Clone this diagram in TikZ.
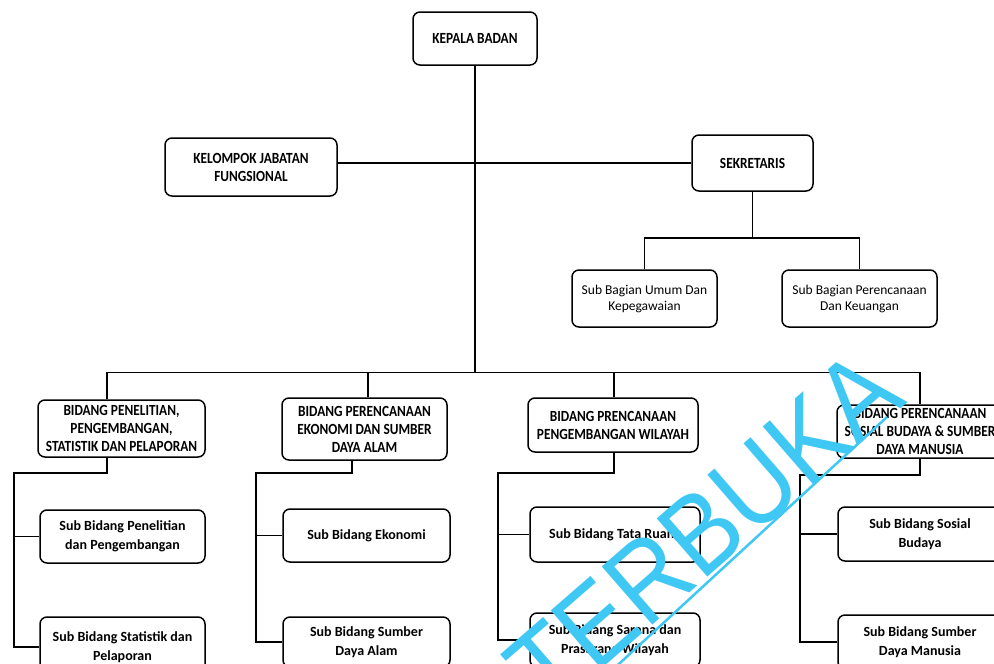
\documentclass[tikz,border=0pt]{standalone}
\usepackage{fontspec}
\setmainfont{Carlito}
\newfontfamily\capsf[FakeStretch=0.86]{Carlito}
\newfontfamily\wmf[FakeStretch=0.9]{Liberation Sans}
\definecolor{wm}{RGB}{64,200,245}
\tikzset{
  box/.style={draw, line width=1.5pt, rounded corners=7pt, fill=white, align=center, inner sep=2pt},
  capsbox/.style={box, font=\capsf\bfseries\fontsize{15.5}{18}\selectfont},
  subbox/.style={box, font=\bfseries\fontsize{14}{19.5}\selectfont},
  bagbox/.style={box, font=\fontsize{13.5}{16}\selectfont},
  conn/.style={line width=1.3pt},
}
\begin{document}
\begin{tikzpicture}[x=1pt,y=-1pt]
\useasboundingbox (0,0) rectangle (994,664);
\clip (0,0) rectangle (994,664);
\fill[white] (0,0) rectangle (994,664);

% top level
\node[capsbox, minimum width=124pt, minimum height=53pt] (kepala) at (475,38.5) {KEPALA BADAN};
\node[capsbox, minimum width=172pt, minimum height=58pt] (kelompok) at (251,167) {KELOMPOK JABATAN\\FUNGSIONAL};
\node[capsbox, minimum width=121pt, minimum height=56pt] (sekretaris) at (752.5,163) {SEKRETARIS};
\node[bagbox, minimum width=145pt, minimum height=57pt] (subum) at (644.5,298.5) {Sub Bagian Umum Dan\\Kepegawaian};
\node[bagbox, minimum width=155pt, minimum height=57pt] (subper) at (859.5,298.5) {Sub Bagian Perencanaan\\Dan Keuangan};

% bidang
\node[capsbox, minimum width=167pt, minimum height=57pt] (b1) at (121.5,428.5) {BIDANG PENELITIAN,\\PENGEMBANGAN,\\STATISTIK DAN PELAPORAN};
\node[capsbox, minimum width=165pt, minimum height=62pt] (b2) at (364.5,429) {BIDANG PERENCANAAN\\EKONOMI DAN SUMBER\\DAYA ALAM};
\node[capsbox, minimum width=170pt, minimum height=54pt] (b3) at (613,425) {BIDANG PRENCANAAN\\PENGEMBANGAN WILAYAH};
\node[capsbox, minimum width=166pt, minimum height=53pt] (b4) at (920,431.5) {BIDANG PERENCANAAN\\SOSIAL BUDAYA \& SUMBER\\DAYA MANUSIA};

% sub bidang
\node[subbox, minimum width=165pt, minimum height=53pt] (s11) at (122.5,536.5) {Sub Bidang Penelitian\\dan Pengembangan};
\node[subbox, minimum width=165pt, minimum height=60pt] (s12) at (122.5,647) {Sub Bidang Statistik dan\\Pelaporan};
\node[subbox, minimum width=167pt, minimum height=53pt] (s21) at (366.5,535.5) {Sub Bidang Ekonomi};
\node[subbox, minimum width=167pt, minimum height=50pt] (s22) at (366.5,642) {Sub Bidang Sumber\\Daya Alam};
\node[subbox, minimum width=170pt, minimum height=55pt] (s31) at (615,534.5) {Sub Bidang Tata Ruang};
\node[subbox, minimum width=170pt, minimum height=54pt] (s32) at (615,640) {Sub Bidang Sarana dan\\Prasarana Wilayah};
\node[subbox, minimum width=164pt, minimum height=54pt] (s41) at (920,534) {Sub Bidang Sosial\\Budaya};
\node[subbox, minimum width=164pt, minimum height=54pt] (s42) at (920,642) {Sub Bidang Sumber\\Daya Manusia};

% connectors: top
\path (kepala.south) ++(0,307) coordinate (mbus);
\draw[conn] (kepala.south) -- (mbus);
\draw[conn] (kelompok.east |- sekretaris.west) -- (sekretaris.west);
\coordinate (sbus) at (753,238);
\draw[conn] (sekretaris.south) -- (sekretaris.south |- sbus);
\draw[conn] (subum.north) |- (sbus) -| (subper.north);

% main bus
\draw[conn] ([xshift=-14.5pt]b1.north) |- (mbus) -| (b4.north);
\draw[conn] ([xshift=3.5pt]b2.north) |- (mbus);
\draw[conn] ([xshift=1pt]b3.north) |- (mbus);

% column 1
\coordinate (c1) at (14,473);
\draw[conn] ([xshift=-14.5pt]b1.south) |- (c1) |- (s12.west);
\draw[conn] (c1 |- s11.west) -- (s11.west);
% column 2
\coordinate (c2) at (256,473);
\draw[conn] ([xshift=-12.5pt]b2.south) |- (c2) |- (s22.west);
\draw[conn] (c2 |- s21.west) -- (s21.west);
% column 3
\coordinate (c3) at (498,473);
\draw[conn] ([xshift=1pt]b3.south) |- (c3) |- (s32.west);
\draw[conn] (c3 |- s31.west) -- (s31.west);
% column 4
\coordinate (c4) at (800,475);
\draw[conn] (b4.south) |- (c4) |- (s42.west);
\draw[conn] (c4 |- s41.west) -- (s41.west);

% watermark
\node[rotate=41, text=wm, font=\wmf\fontsize{112}{112}\selectfont, inner sep=0pt] (wmtext) at (704,530) {TERBUKA};
\coordinate (wl1) at (600,681.4);
\coordinate (wl2) at (887,417);
\draw[wm, line width=2.5pt] (wl1) -- (wl2);
\end{tikzpicture}
\end{document}
